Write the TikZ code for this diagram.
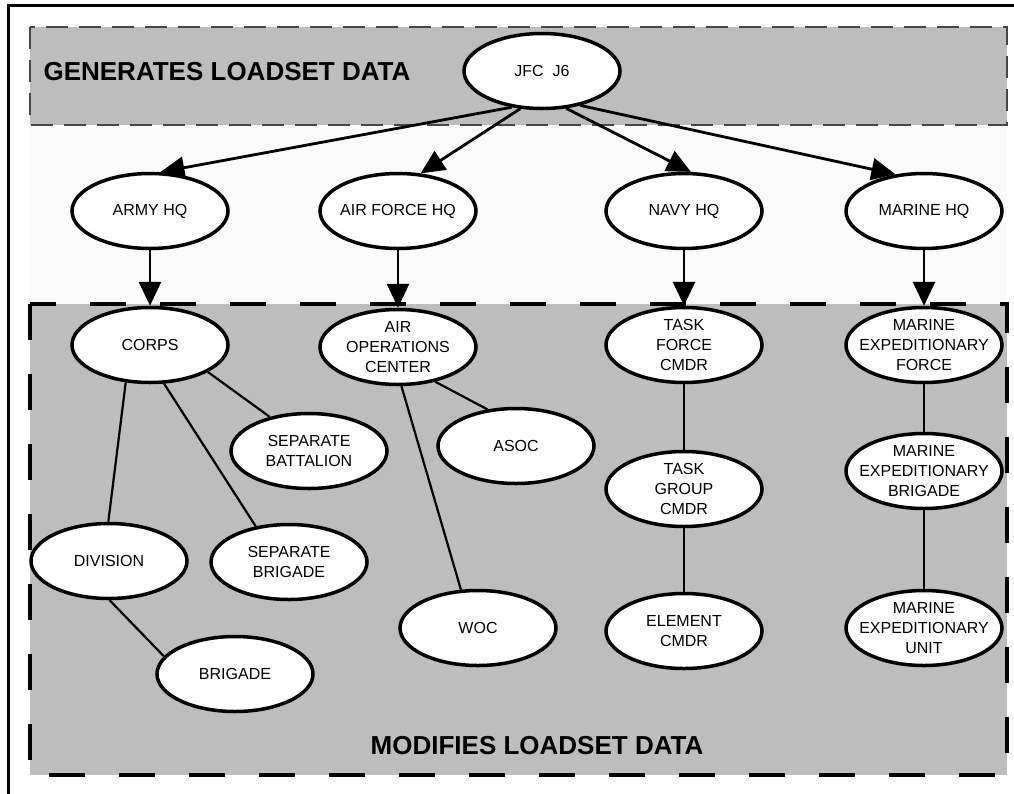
\documentclass[tikz,border=0pt]{standalone}
\usepackage{fontspec}
\setmainfont{Liberation Sans}
\usetikzlibrary{arrows.meta,shapes.geometric}
\definecolor{bandgray}{RGB}{189,189,189}
\definecolor{dashgray}{RGB}{70,70,70}
\definecolor{midwhite}{RGB}{250,250,250}
\begin{document}
\begin{tikzpicture}[x=1pt,y=-1pt,
  unit/.style={ellipse, draw=black, line width=3.5pt, fill=white,
    minimum width=156pt, minimum height=75pt, inner sep=0pt},
  lab/.style={align=center, inner sep=0pt, font=\fontsize{16}{20}\selectfont},
  link/.style={line width=2.2pt},
  feed/.style={line width=2.8pt, -{Triangle[length=24pt,width=22pt]}},
  head/.style={font=\bfseries\fontsize{26}{30}\selectfont, inner sep=0pt}]
\useasboundingbox (0,0) rectangle (1014,793);
\fill[white] (0,0) rectangle (1014,793);
% bands
\fill[midwhite] (30,125) rectangle (1007,304);
\fill[bandgray] (30,27) rectangle (1007,125);
\fill[bandgray] (30,304) rectangle (1007,775);
\draw[dashgray, line width=2pt, dash pattern=on 22pt off 11pt] (30,27) rectangle (1007,125);
\draw[black, line width=3.5pt, dash pattern=on 36pt off 34pt] (30,304) rectangle (1007,775);
% outer frame (cropped at right and bottom)
\draw[line width=3pt] (8,800) -- (8,5) -- (1025,5);
% headings
\node[head] (gen) at (227,72) {GENERATES LOADSET DATA};
\node[head] (mod) at (537,746) {MODIFIES LOADSET DATA};
% nodes
\node[unit, label={[lab]center:JFC\ \ J6}] (jfc) at (542,71) {};
\node[unit, label={[lab]center:ARMY HQ}] (army) at (150,211) {};
\node[unit, label={[lab]center:AIR FORCE HQ}] (af) at (398,211) {};
\node[unit, label={[lab]center:NAVY HQ}] (navy) at (684,211) {};
\node[unit, label={[lab]center:MARINE HQ}] (marine) at (924,211) {};
\node[unit, label={[lab]center:CORPS}] (corps) at (150,345) {};
\node[unit, label={[lab]center:AIR\\OPERATIONS\\CENTER}] (aoc) at (398,347) {};
\node[unit, label={[lab]center:TASK\\FORCE\\CMDR}] (tf) at (684,345) {};
\node[unit, label={[lab]center:MARINE\\EXPEDITIONARY\\FORCE}] (mef) at (924,345) {};
\node[unit, label={[lab]center:SEPARATE\\BATTALION}] (sepbat) at (309,451) {};
\node[unit, label={[lab]center:ASOC}] (asoc) at (516,446) {};
\node[unit, label={[lab]center:TASK\\GROUP\\CMDR}] (tg) at (684,489) {};
\node[unit, label={[lab]center:MARINE\\EXPEDITIONARY\\BRIGADE}] (meb) at (924,471) {};
\node[unit, label={[lab]center:DIVISION}] (div) at (109,561) {};
\node[unit, label={[lab]center:SEPARATE\\BRIGADE}] (sepbrig) at (289,562) {};
\node[unit, label={[lab]center:WOC}] (woc) at (478,628) {};
\node[unit, label={[lab]center:ELEMENT\\CMDR}] (elem) at (684,631) {};
\node[unit, label={[lab]center:MARINE\\EXPEDITIONARY\\UNIT}] (meu) at (924,628) {};
\node[unit, label={[lab]center:BRIGADE}] (brig) at (235,674) {};
% arrows
\draw[feed] (jfc.230) -- (army.75);
\draw[feed] (jfc.240) -- (af.59);
\draw[feed] (jfc.303) -- (navy.80);
\draw[feed] (jfc.318) -- (marine.128);
\draw[feed] (army) -- (corps);
\draw[feed] (af) -- (aoc);
\draw[feed] (navy) -- (tf);
\draw[feed] (marine) -- (mef);
% links
\draw[link] (corps.237) -- (div.91);
\draw[link] (corps.290) -- (sepbrig.133);
\draw[link] (corps.335) -- (sepbat.139);
\draw[link] (div.271) -- (brig.166);
\draw[link] (aoc.275) -- (woc.114);
\draw[link] (aoc.317) -- (asoc.128);
\draw[link] (tf) -- (tg);
\draw[link] (tg) -- (elem);
\draw[link] (mef) -- (meb);
\draw[link] (meb) -- (meu);
\end{tikzpicture}
\end{document}
